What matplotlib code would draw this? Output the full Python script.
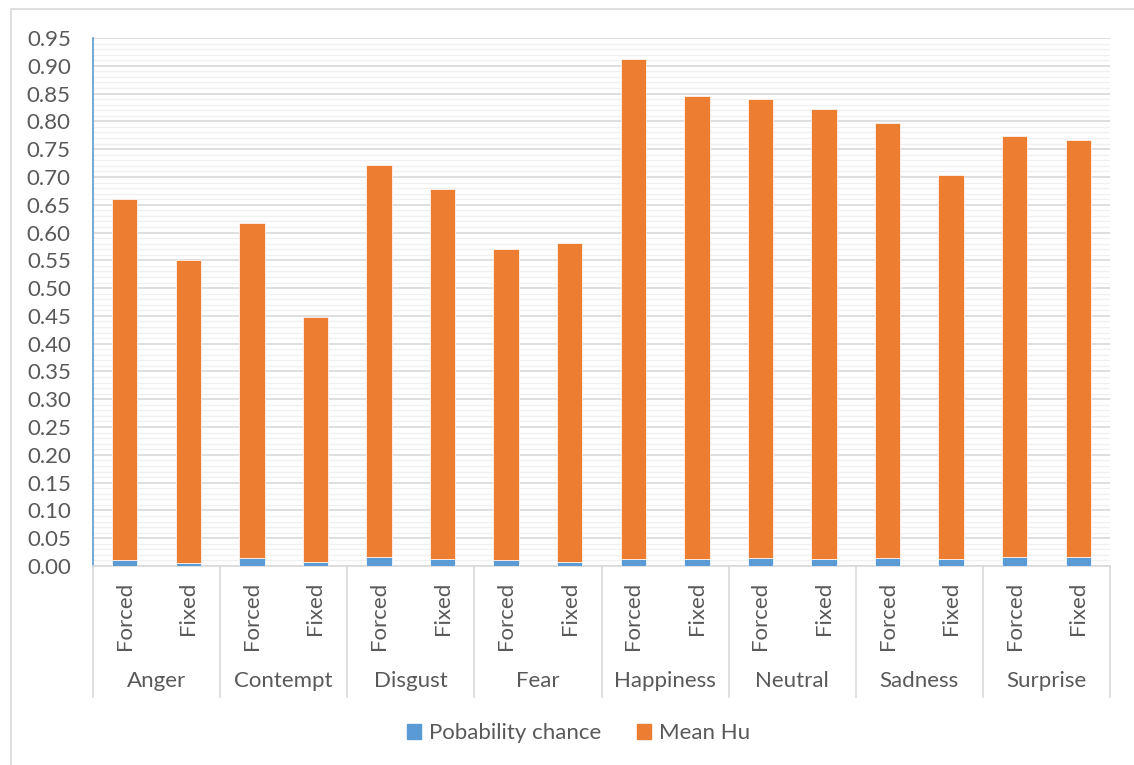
import matplotlib
matplotlib.use('Agg')
import matplotlib.pyplot as plt
from matplotlib.patches import Patch, Rectangle
from matplotlib.ticker import MultipleLocator, FormatStrFormatter
import numpy as np

plt.rcParams['font.family'] = ['Lato', 'DejaVu Sans']

# Data
emotions = ["Anger", "Contempt", "Disgust", "Fear", "Happiness", "Neutral", "Sadness", "Surprise"]
conditions = ["Forced", "Fixed"]
prob_chance = [0.010, 0.006, 0.014, 0.008, 0.016, 0.013, 0.010, 0.008,
               0.013, 0.012, 0.015, 0.012, 0.014, 0.013, 0.016, 0.016]
mean_hu = [0.650, 0.545, 0.603, 0.440, 0.705, 0.665, 0.560, 0.573,
           0.899, 0.833, 0.826, 0.810, 0.783, 0.691, 0.758, 0.750]

BLUE = '#5b9bd5'
ORANGE = '#ed7d31'
GRID = '#d9d9d9'
TEXT = '#595959'
FS = 16

fig = plt.figure(figsize=(11.34, 7.65), dpi=100)
ax = fig.add_axes([93 / 1134, 199 / 765, 1017 / 1134, 528 / 765])

x = np.arange(len(prob_chance))
ax.bar(x, prob_chance, width=0.4, color=BLUE, edgecolor='white', linewidth=0.5, zorder=3)
ax.bar(x, mean_hu, width=0.4, bottom=prob_chance, color=ORANGE, edgecolor='white',
       linewidth=0.5, zorder=3)

ax.set_xlim(-0.5, len(x) - 0.5)
ax.set_ylim(0, 0.95)
ax.yaxis.set_major_locator(MultipleLocator(0.05))
ax.yaxis.set_minor_locator(MultipleLocator(0.01))
ax.yaxis.set_major_formatter(FormatStrFormatter('%.2f'))
ax.grid(True, which='major', axis='y', color=GRID, linewidth=1.2, zorder=0)
ax.grid(True, which='minor', axis='y', color='#f0f0f0', linewidth=1.0, zorder=0)
ax.tick_params(axis='y', which='both', length=0, labelsize=FS, labelcolor=TEXT, pad=16)
ax.tick_params(axis='x', which='both', length=0, labelbottom=False)

for side in ['top', 'right']:
    ax.spines[side].set_visible(False)
ax.spines['left'].set_color(BLUE)
ax.spines['left'].set_linewidth(1.2)
ax.spines['bottom'].set_color(GRID)
ax.spines['bottom'].set_linewidth(1.2)

# multi-level category axis
trans = ax.get_xaxis_transform()
h = 528.0
for i, xi in enumerate(x):
    ax.text(xi, -16 / h, conditions[i % 2], rotation=90, ha='center', va='top',
            fontsize=FS, color=TEXT, transform=trans)
for g, name in enumerate(emotions):
    ax.text(2 * g + 0.5, -115 / h, name, ha='center', va='center',
            fontsize=FS, color=TEXT, transform=trans)
for g in range(len(emotions) + 1):
    ax.plot([2 * g - 0.5, 2 * g - 0.5], [0, -131 / h], color=GRID, linewidth=1.2,
            transform=trans, clip_on=False)

handles = [Patch(color=BLUE, label='Pobability chance'), Patch(color=ORANGE, label='Mean Hu')]
fig.legend(handles=handles, loc='center', bbox_to_anchor=(0.51, 32 / 765), ncol=2,
           frameon=False, fontsize=FS, labelcolor=TEXT, handlelength=0.65,
           handleheight=0.65, columnspacing=1.6, handletextpad=0.35)

# outer chart border (runs off the right and bottom edges)
fig.patches.append(Rectangle((11 / 1134, -10 / 765), 1140 / 1134, 766 / 765,
                             transform=fig.transFigure, fill=False, edgecolor=GRID,
                             linewidth=1.2))

plt.savefig('out.png', dpi=100)
plt.close()
